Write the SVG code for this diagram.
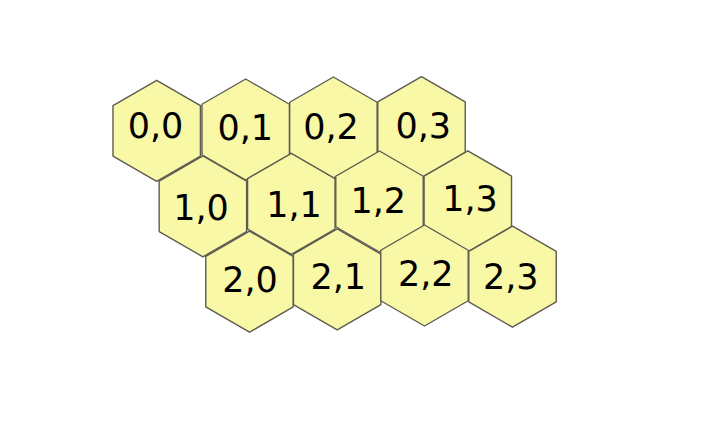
<svg xmlns="http://www.w3.org/2000/svg" xmlns:xlink="http://www.w3.org/1999/xlink" width="704" height="428" viewBox="0 0 704 428">
  <style>
    .hex { fill: #f8f8a6; stroke: #5c5c50; stroke-width: 1.4; stroke-linejoin: round; }
    .lbl { font-family: "DejaVu Sans", "Liberation Sans", sans-serif; font-size: 35px; fill: #000; text-anchor: middle; }
  </style>
  <defs>
    <polygon id="hexshape" points="0,-50.5 43.73,-25.25 43.73,25.25 0,50.5 -43.73,25.25 -43.73,-25.25"/>
  </defs>
  <rect width="704" height="428" fill="#ffffff"/>
  <g id="connectors"></g>
  <g id="node-0-0"><use href="#hexshape" class="hex" x="156.7" y="130.8"/><text class="lbl" x="155.5" y="138.3">0,0</text></g>
  <g id="node-0-1"><use href="#hexshape" class="hex" x="245.7" y="129.5"/><text class="lbl" x="245.3" y="139.5">0,1</text></g>
  <g id="node-0-2"><use href="#hexshape" class="hex" x="333.4" y="127.5"/><text class="lbl" x="331" y="139">0,2</text></g>
  <g id="node-0-3"><use href="#hexshape" class="hex" x="421.5" y="127.2"/><text class="lbl" x="423.3" y="138">0,3</text></g>
  <g id="node-1-0"><use href="#hexshape" class="hex" x="202.9" y="206.3"/><text class="lbl" x="201" y="219.5">1,0</text></g>
  <g id="node-1-1"><use href="#hexshape" class="hex" x="291.3" y="203.8"/><text class="lbl" x="294" y="216.5">1,1</text></g>
  <g id="node-1-2"><use href="#hexshape" class="hex" x="379.5" y="201.5"/><text class="lbl" x="378.3" y="213">1,2</text></g>
  <g id="node-1-3"><use href="#hexshape" class="hex" x="467.8" y="201.3"/><text class="lbl" x="470" y="211">1,3</text></g>
  <g id="node-2-0"><use href="#hexshape" class="hex" x="249.5" y="281.7"/><text class="lbl" x="250" y="292">2,0</text></g>
  <g id="node-2-1"><use href="#hexshape" class="hex" x="337.2" y="279.3"/><text class="lbl" x="338.3" y="289">2,1</text></g>
  <g id="node-2-2"><use href="#hexshape" class="hex" x="424.5" y="275.5"/><text class="lbl" x="425.8" y="285.5">2,2</text></g>
  <g id="node-2-3"><use href="#hexshape" class="hex" x="512.5" y="276.7"/><text class="lbl" x="510.8" y="288.5">2,3</text></g>
</svg>
